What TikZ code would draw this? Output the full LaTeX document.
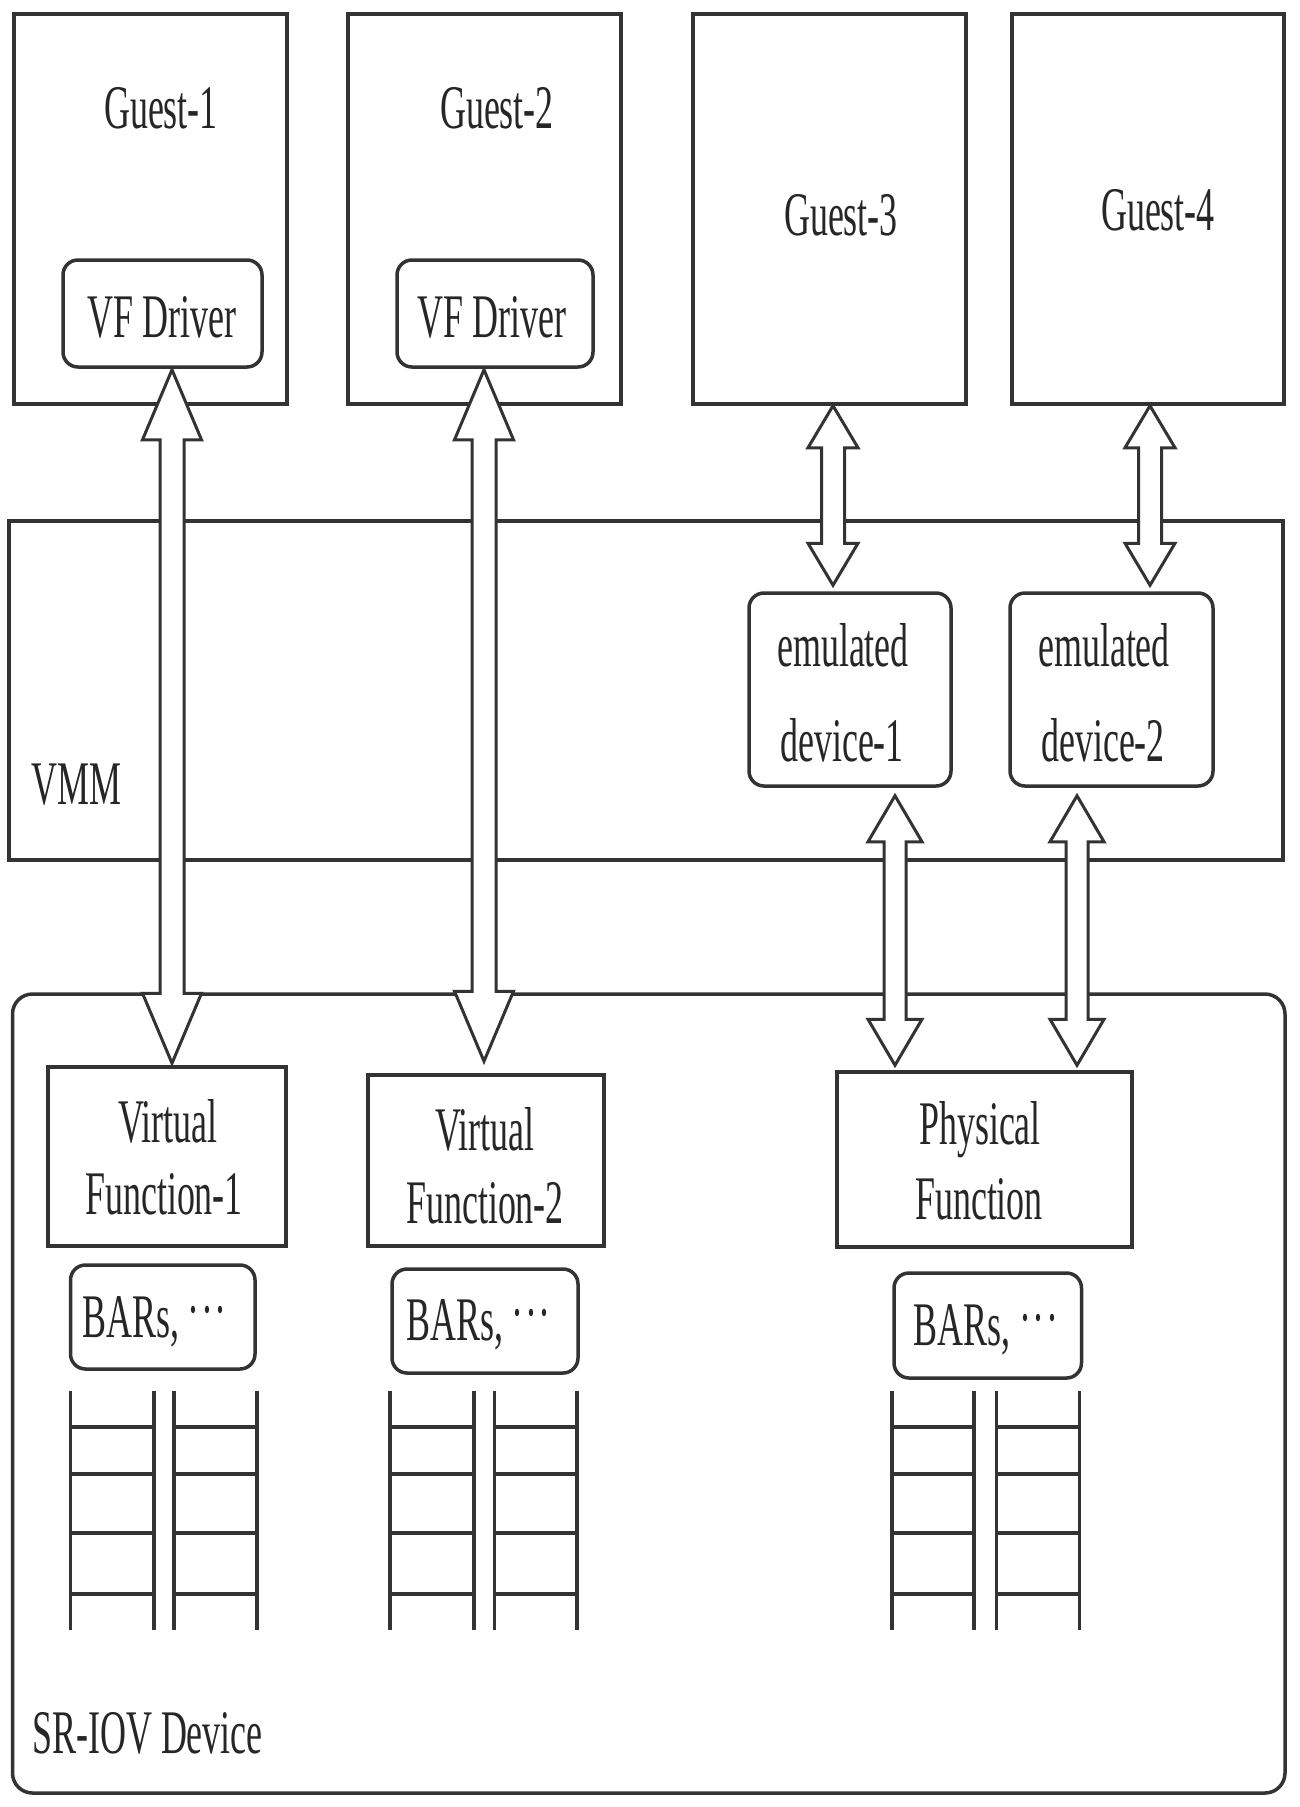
\documentclass[tikz,border=0pt]{standalone}
\usepackage{fontspec}
\setmainfont{Liberation Serif}[FakeStretch=0.58]
\usetikzlibrary{calc}
\definecolor{ink}{HTML}{333333}
\definecolor{txt}{HTML}{262626}
\newcommand\middots{\raisebox{0.1em}{·\kern1.5pt·\kern1.5pt·}}
% #1 top end, #2 bottom end (x taken from #1), #3 head length, #4 head half width, #5 shaft half width
\newcommand\fatarrow[5]{%
  \draw[arrowline] let \p1=#1, \p2=#2 in
    (\x1,\y1) -- (\x1+#4pt,\y1-#3pt) -- (\x1+#5pt,\y1-#3pt) -- (\x1+#5pt,\y2+#3pt)
    -- (\x1+#4pt,\y2+#3pt) -- (\x1,\y2) -- (\x1-#4pt,\y2+#3pt) -- (\x1-#5pt,\y2+#3pt)
    -- (\x1-#5pt,\y1-#3pt) -- (\x1-#4pt,\y1-#3pt) -- cycle;}
\begin{document}
\begin{tikzpicture}[x=1pt,y=-1pt,
  sqbox/.style={draw=ink,line width=3.5pt,inner sep=0pt,rectangle},
  rbox/.style={sqbox,rounded corners=15pt},
  lbl/.style={anchor=base,inner sep=0pt,text=txt,font=\fontsize{62}{62}\selectfont},
  arrowline/.style={draw=ink,line width=3pt,fill=white,line join=miter},
  ladder/.style={draw=ink,line width=3.5pt}]
\fill[white] (0,0) rectangle (1300,1807);
\useasboundingbox (0,0) rectangle (1300,1807);

% Guests
\node[sqbox,minimum width=273pt,minimum height=390pt] (g1) at (150.5,209) {};
\node[sqbox,minimum width=273pt,minimum height=390pt] (g2) at (484.5,209) {};
\node[sqbox,minimum width=273pt,minimum height=390pt] (g3) at (829.5,209) {};
\node[sqbox,minimum width=272pt,minimum height=390pt] (g4) at (1148,209) {};
\node[lbl] (tg1) at (161,128) {Guest-1};
\node[lbl] (tg2) at (497,128) {Guest-2};
\node[lbl] (tg3) at (841,235) {Guest-3};
\node[lbl] (tg4) at (1158,230) {Guest-4};

% VF drivers
\node[rbox,minimum width=199pt,minimum height=107pt] (vfd1) at (162.5,313.5) {};
\node[rbox,minimum width=196pt,minimum height=107pt] (vfd2) at (495,313.5) {};
\node[lbl] (tvfd1) at (162,337) {VF Driver};
\node[lbl] (tvfd2) at (492,337) {VF Driver};

% VMM
\node[sqbox,minimum width=1274pt,minimum height=339pt] (vmm) at (646,690.5) {};
\node[lbl,anchor=base west] (tvmm) at (31,804) {VMM};
\node[rbox,minimum width=202pt,minimum height=193pt] (emu1) at (850,689.5) {};
\node[rbox,minimum width=203pt,minimum height=193pt] (emu2) at (1111.5,689.5) {};
\node[lbl] (te1a) at (843,666) {emulated};
\node[lbl] (te1b) at (842,761) {device-1};
\node[lbl] (te2a) at (1104,666) {emulated};
\node[lbl] (te2b) at (1103,761) {device-2};

% SR-IOV device
\node[sqbox,rounded corners=20pt,minimum width=1272.5pt,minimum height=799pt] (sr) at (648.75,1393.5) {};
\node[lbl,anchor=base west] (tsr) at (32,1753) {SR-IOV Device};
\node[sqbox,minimum width=238pt,minimum height=179pt] (vf1) at (167,1156.5) {};
\node[sqbox,minimum width=236pt,minimum height=171pt] (vf2) at (486,1160.5) {};
\node[sqbox,minimum width=295pt,minimum height=175pt] (pf) at (984.5,1159.5) {};
\node[lbl] (tvf1a) at (168,1142) {Virtual};
\node[lbl] (tvf1b) at (164,1214) {Function-1};
\node[lbl] (tvf2a) at (485,1150) {Virtual};
\node[lbl] (tvf2b) at (485,1223) {Function-2};
\node[lbl] (tpfa) at (980,1144) {Physical};
\node[lbl] (tpfb) at (979,1219) {Function};
\node[rbox,minimum width=184.5pt,minimum height=104pt] (b1) at (162.75,1317) {};
\node[rbox,minimum width=186pt,minimum height=104pt] (b2) at (485,1321) {};
\node[rbox,minimum width=187.5pt,minimum height=105pt] (b3) at (987.75,1325.5) {};
\node[lbl] (tb1) at (154.5,1337) {BARs, \middots};
\node[lbl] (tb2) at (478.5,1340) {BARs, \middots};
\node[lbl] (tb3) at (986,1345) {BARs, \middots};

% queues (ladders)
\foreach \a/\b/\c/\d in {70.5/154/174/257, 390/474/494.5/577, 892/974/996.5/1079.5}{
  \foreach \xx in {\a,\b,\c,\d}{\draw[ladder] (\xx,1391) -- (\xx,1630);}
  \foreach \yy in {1427,1474,1533,1594}{
    \draw[ladder] (\a,\yy) -- (\b,\yy);
    \draw[ladder] (\c,\yy) -- (\d,\yy);}
}

% arrow columns
\coordinate (ax1) at (172,0);
\coordinate (ax2) at (484,0);
\coordinate (ax3) at (833,0);
\coordinate (ax4) at (1150,0);
\coordinate (ax5) at (895,0);
\coordinate (ax6) at (1077,0);

\fatarrow{($(ax1 |- vfd1.south)+(0,1)$)}{($(ax1 |- vf1.north)+(0,-2)$)}{70}{29.5}{12}
\fatarrow{($(ax2 |- vfd2.south)+(0,1)$)}{($(ax2 |- vf2.north)+(0,-12)$)}{70}{29.5}{12}
\fatarrow{(ax3 |- g3.south)}{($(ax3 |- emu1.north)+(0,-6)$)}{42}{25}{11.5}
\fatarrow{(ax4 |- g4.south)}{($(ax4 |- emu2.north)+(0,-6)$)}{42}{25}{11.5}
\fatarrow{($(ax5 |- emu1.south)+(0,8)$)}{($(ax5 |- pf.north)+(0,-5)$)}{46}{27}{11}
\fatarrow{($(ax6 |- emu2.south)+(0,8)$)}{($(ax6 |- pf.north)+(0,-5)$)}{46}{27}{11}
\end{tikzpicture}
\end{document}
